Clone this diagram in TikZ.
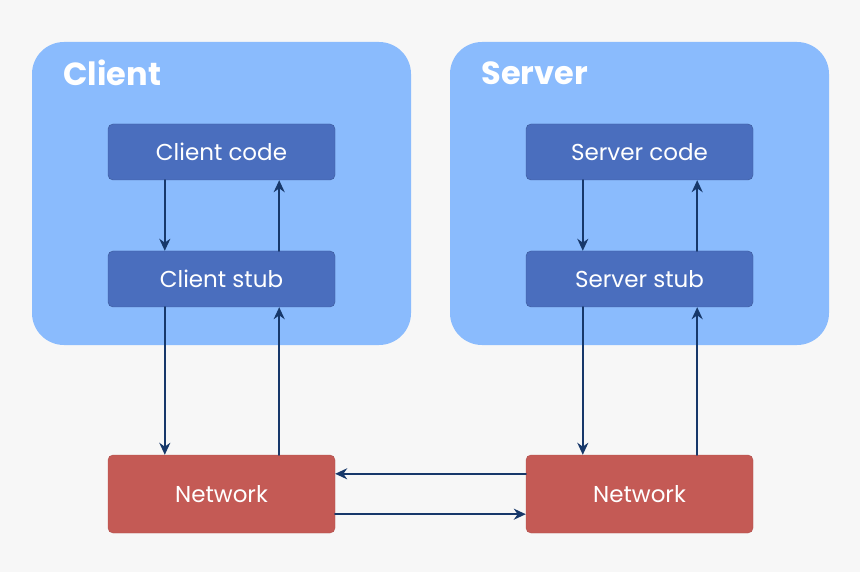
\documentclass[tikz,border=0pt]{standalone}
\usepackage{fontspec}
\setmainfont{Poppins}
\usetikzlibrary{positioning,arrows.meta}
\definecolor{bgcol}{HTML}{F7F7F7}
\definecolor{areacol}{HTML}{8ABBFD}
\definecolor{stepcol}{HTML}{4A6EBE}
\definecolor{netcol}{HTML}{C45A55}
\definecolor{linkcol}{HTML}{17386A}
\begin{document}
\begin{tikzpicture}[x=1pt,y=-1pt, line cap=round]
  % stijlen
  \tikzset{
    area/.style={fill=areacol, rounded corners=32pt},
    layer/.style={fill=stepcol, draw=stepcol!80!black, rounded corners=5pt, minimum width=227pt, minimum height=56pt, text=white, font=\fontsize{23}{25}\selectfont},
    net/.style={layer, fill=netcol, draw=netcol!90!black, minimum height=78pt},
    title/.style={anchor=west, text=white, font=\fontsize{32}{34}\selectfont\bfseries},
    link/.style={draw=linkcol, line width=2pt, -{Stealth[length=12pt,width=11pt]}}
  }
  % achtergrond
  \fill[bgcol] (0,0) rectangle (860,572);
  \useasboundingbox (0,0) rectangle (860,572);
  % gebieden
  \fill[area] (32,42) rectangle (411,345);
  \fill[area] (450,42) rectangle (829,345);
  \node[title] (ctitle) at (60,73) {Client};
  \node[title] (stitle) at (478,73) {Server};
  % blokken
  \node[layer] (ccode) at (221.5,152) {Client code};
  \node[layer] (cstub) at (221.5,279) {Client stub};
  \node[net] (cnet) at (221.5,494) {Network};
  \node[layer] (scode) at (639.5,152) {Server code};
  \node[layer] (sstub) at (639.5,279) {Server stub};
  \node[net] (snet) at (639.5,494) {Network};
  % pijlen
  \foreach \a/\b/\c in {ccode/cstub/cnet, scode/sstub/snet}{
    \draw[link] ([xshift=57pt]\a.south west) -- ([xshift=57pt]\b.north west);
    \draw[link] ([xshift=-56pt]\b.north east) -- ([xshift=-56pt]\a.south east);
    \draw[link] ([xshift=57pt]\b.south west) -- ([xshift=57pt]\c.north west);
    \draw[link] ([xshift=-56pt]\c.north east) -- ([xshift=-56pt]\b.south east);
  }
  \draw[link] ([yshift=-19pt]snet.north west) -- ([yshift=-19pt]cnet.north east);
  \draw[link] ([yshift=19pt]cnet.south east) -- ([yshift=19pt]snet.south west);
\end{tikzpicture}
\end{document}
